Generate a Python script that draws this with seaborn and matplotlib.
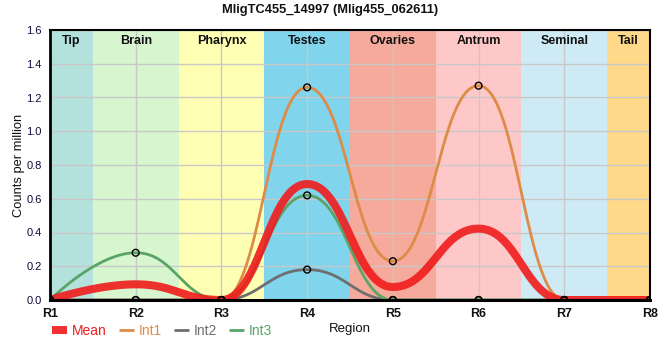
import numpy as np
import pandas as pd
import matplotlib
matplotlib.use("Agg")
import matplotlib.pyplot as plt
import seaborn as sns

# ---- data ----
regions = ["R1", "R2", "R3", "R4", "R5", "R6", "R7", "R8"]
int1 = [0.0, 0.0, 0.0, 1.26, 0.23, 1.27, 0.0, 0.0]
int2 = [0.0, 0.0, 0.0, 0.18, 0.0, 0.0, 0.0, 0.0]
int3 = [0.0, 0.28, 0.0, 0.62, 0.0, 0.0, 0.0, 0.0]
mean = [0.0, 0.093, 0.0, 0.687, 0.077, 0.423, 0.0, 0.0]

area_names = ["Tip", "Brain", "Pharynx", "Testes", "Ovaries", "Antrum", "Seminal", "Tail"]
area_colors = ["#b3e2dd", "#d7f6d0", "#ffffb4", "#80d4ec", "#f6aa9c", "#ffc8c8", "#ceebf5", "#ffd98a"]

title = "MligTC455_14997 (Mlig455_062611)"


def spline(x, y, n=60):
    """Smooth bezier rendering through the points (no overshoot)."""
    x = np.asarray(x, float)
    y = np.asarray(y, float)
    N = len(x)
    sm, den = 1.2, 2.2
    lc = [(x[i], y[i]) for i in range(N)]
    rc = [(x[i], y[i]) for i in range(N)]
    for i in range(1, N - 1):
        px, py = x[i], y[i]
        lx, ly = x[i - 1], y[i - 1]
        nx, ny = x[i + 1], y[i + 1]
        lcx = (sm * px + lx) / den
        lcy = (sm * py + ly) / den
        rcx = (sm * px + nx) / den
        rcy = (sm * py + ny) / den
        corr = (rcy - lcy) * (rcx - px) / (rcx - lcx) + py - rcy
        lcy += corr
        rcy += corr
        if lcy > ly and lcy > py:
            lcy = max(ly, py); rcy = 2 * py - lcy
        elif lcy < ly and lcy < py:
            lcy = min(ly, py); rcy = 2 * py - lcy
        if rcy > ny and rcy > py:
            rcy = max(ny, py); lcy = 2 * py - rcy
        elif rcy < ny and rcy < py:
            rcy = min(ny, py); lcy = 2 * py - rcy
        lc[i] = (lcx, lcy)
        rc[i] = (rcx, rcy)
    xs, ys = [], []
    for k in range(N - 1):
        t = np.linspace(0, 1, n, endpoint=(k == N - 2))
        b0 = (1 - t) ** 3
        b1 = 3 * (1 - t) ** 2 * t
        b2 = 3 * (1 - t) * t ** 2
        b3 = t ** 3
        xs.append(b0 * x[k] + b1 * rc[k][0] + b2 * lc[k + 1][0] + b3 * x[k + 1])
        ys.append(b0 * y[k] + b1 * rc[k][1] + b2 * lc[k + 1][1] + b3 * y[k + 1])
    return np.concatenate(xs), np.concatenate(ys)


sns.set_theme(style="white")
plt.rcParams["font.family"] = ["Liberation Sans", "DejaVu Sans"]

fig = plt.figure(figsize=(6.6, 3.6), dpi=100)
ax = fig.add_axes([50 / 660, 60 / 360, 600 / 660, 270 / 360])

xpos = np.arange(1, len(regions) + 1)

# background areas
for i, (nm, col) in enumerate(zip(area_names, area_colors)):
    lo = max(xpos[0], xpos[i] - 0.5)
    hi = min(xpos[-1], xpos[i] + 0.5)
    ax.axvspan(lo, hi, color=col, lw=0, zorder=0)
    ax.text((lo + hi) / 2, 1 - 11 / 270, nm, transform=ax.get_xaxis_transform(),
            ha="center", va="center", fontsize=9, fontweight="bold", color="#111111", zorder=5)

ax.grid(True, color="#c8c8c8", lw=1, zorder=1)

series = [("Int1", int1, "#dd8c48"), ("Int2", int2, "#6e6e6e"), ("Int3", int3, "#5aa466")]
for name, vals, col in series:
    sx, sy = spline(xpos, vals)
    sns.lineplot(x=sx, y=sy, ax=ax, color=col, lw=2.0, sort=False, zorder=3, label=name)

mx, my = spline(xpos, mean)
sns.lineplot(x=mx, y=my, ax=ax, color="#f01c1c", lw=5.8, alpha=0.9, sort=False, zorder=4,
             label="Mean", solid_capstyle="butt")

for name, vals, col in series:
    sns.scatterplot(x=xpos, y=vals, ax=ax, marker="o", s=24, facecolor="none",
                    edgecolor="black", linewidth=1.0, zorder=6, legend=False)

ax.set_xlim(xpos[0], xpos[-1])
ax.set_ylim(0, 1.6)
ax.set_xticks(xpos)
ax.set_xticklabels(regions, fontweight="bold", fontsize=9, color="#111111")
yt = np.arange(0, 1.61, 0.2)
ax.set_yticks(yt)
ax.set_yticklabels([f"{v:.1f}" for v in yt], fontsize=8, color="#0b0b3b")
ax.tick_params(axis="both", direction="out", length=4, width=1, color="black", pad=2)
for s in ax.spines.values():
    s.set_color("black")
    s.set_linewidth(1.5)
    s.set_zorder(7)
ax.spines["left"].set_linewidth(2)
ax.spines["bottom"].set_linewidth(2.2)

ax.set_ylabel("Counts per million", fontsize=9.3, color="#111111", labelpad=1)
ax.set_xlabel("Region", fontsize=9.5, color="#111111", labelpad=2)
fig.text(330 / 660, 1 - 10 / 360, title, ha="center", va="center",
         fontsize=9.3, fontweight="bold", color="#111111")

handles, labels = ax.get_legend_handles_labels()
ax.get_legend().remove()
order = [labels.index(l) for l in ["Mean", "Int1", "Int2", "Int3"]]
leg = fig.legend([handles[i] for i in order], [labels[i] for i in order],
                 loc="center left", bbox_to_anchor=(52 / 660, 1 - 331 / 360), ncol=4,
                 frameon=False, handlelength=1.1, handletextpad=0.35, columnspacing=0.85,
                 fontsize=10, labelcolor="linecolor", borderaxespad=0, borderpad=0)
for h in leg.legend_handles:
    h.set_solid_capstyle("butt")

fig.savefig("out.png", dpi=100)
